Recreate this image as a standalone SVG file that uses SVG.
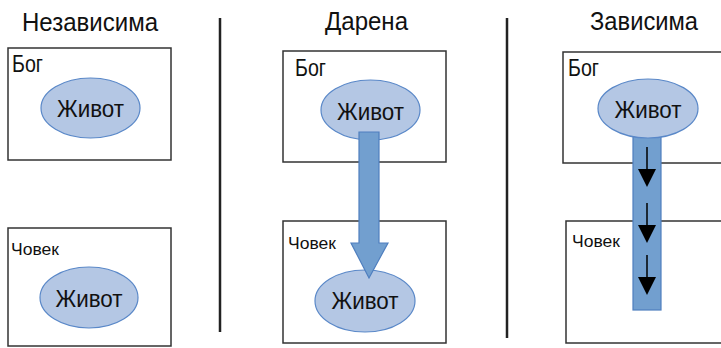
<svg xmlns="http://www.w3.org/2000/svg" xmlns:xlink="http://www.w3.org/1999/xlink" width="721" height="348" viewBox="0 0 721 348">
<style>
.box{fill:#ffffff;stroke:#333333;stroke-width:1.5}
.ell{fill:#b4c7e4;stroke:#5a88c8;stroke-width:1.2}
.title{font-family:"Liberation Sans",Arial,sans-serif;font-size:26px;fill:#111111}
.lbl{font-family:"Liberation Sans",Arial,sans-serif;font-size:24px;fill:#111111}
.sm{font-family:"Liberation Sans",Arial,sans-serif;font-size:17px;fill:#111111}
.div{stroke:#222222;stroke-width:2.5}
.flow{fill:#729fcf;stroke:#4f7fbf;stroke-width:1.2}
</style>
<defs>
<g id="smallArrow">
<line x1="0" y1="0" x2="0" y2="24" stroke="#000" stroke-width="1.5"/>
<polygon points="-9,22 9,22 0,40" fill="#000"/>
</g>
</defs>
<rect width="721" height="348" fill="#ffffff"/>
<g id="titles">
<text class="title" x="22" y="31" textLength="136" lengthAdjust="spacingAndGlyphs">Независима</text>
<text class="title" x="325" y="30" textLength="83" lengthAdjust="spacingAndGlyphs">Дарена</text>
<text class="title" x="590" y="30" textLength="108" lengthAdjust="spacingAndGlyphs">Зависима</text>
</g>
<g id="dividers">
<line class="div" x1="220" y1="18" x2="220" y2="332"/>
<line class="div" x1="507" y1="18" x2="507" y2="338"/>
</g>
<g id="left-god">
<rect class="box" x="8" y="48" width="163" height="112"/>
<text class="lbl" x="12" y="72" textLength="31" lengthAdjust="spacingAndGlyphs">Бог</text>
<ellipse class="ell" cx="90.5" cy="108" rx="49.5" ry="30"/>
<text class="lbl" x="57" y="117" textLength="67" lengthAdjust="spacingAndGlyphs">Живот</text>
</g>
<g id="left-man">
<rect class="box" x="8" y="228" width="163" height="118"/>
<text class="sm" x="11" y="255" textLength="48" lengthAdjust="spacingAndGlyphs">Човек</text>
<ellipse class="ell" cx="89" cy="297.5" rx="49" ry="30.5"/>
<text class="lbl" x="55.5" y="307" textLength="67" lengthAdjust="spacingAndGlyphs">Живот</text>
</g>
<g id="mid-god">
<rect class="box" x="283" y="51" width="163" height="111"/>
<text class="lbl" x="295" y="76" textLength="31" lengthAdjust="spacingAndGlyphs">Бог</text>
<ellipse class="ell" cx="370.5" cy="110" rx="49.5" ry="30"/>
<text class="lbl" x="337" y="120" textLength="67" lengthAdjust="spacingAndGlyphs">Живот</text>
</g>
<g id="mid-man">
<rect class="box" x="283" y="221" width="163" height="122"/>
<text class="sm" x="288" y="249" textLength="48" lengthAdjust="spacingAndGlyphs">Човек</text>
<ellipse class="ell" cx="365" cy="301" rx="50" ry="31"/>
<text class="lbl" x="331.5" y="309" textLength="67" lengthAdjust="spacingAndGlyphs">Живот</text>
</g>
<g id="right-god">
<rect class="box" x="563" y="52" width="170" height="111"/>
<text class="lbl" x="568" y="76" textLength="31" lengthAdjust="spacingAndGlyphs">Бог</text>
</g>
<g id="right-man">
<rect class="box" x="566" y="221" width="170" height="122"/>
<text class="sm" x="572" y="247" textLength="48" lengthAdjust="spacingAndGlyphs">Човек</text>
</g>
<g id="connectors">
<path class="flow" d="M359,132 L379,132 L379,243 L388,243 L369,278 L351,243 L359,243 Z"/>
<rect class="flow" x="633" y="136" width="28" height="174"/>
<use xlink:href="#smallArrow" x="647" y="147"/>
<use xlink:href="#smallArrow" x="647" y="203"/>
<use xlink:href="#smallArrow" x="647" y="255"/>
</g>
<g id="right-life">
<ellipse class="ell" cx="648" cy="108.5" rx="50" ry="29.5"/>
<text class="lbl" x="614.5" y="118" textLength="67" lengthAdjust="spacingAndGlyphs">Живот</text>
</g>
</svg>
